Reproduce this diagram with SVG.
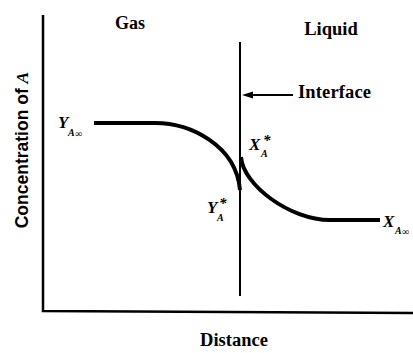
<svg xmlns="http://www.w3.org/2000/svg" width="413" height="353" viewBox="0 0 413 353">
<style>
.t{font-family:"Liberation Serif","Times New Roman",serif;font-weight:bold;fill:#000}
.m{font-family:"Liberation Serif","Times New Roman",serif;font-weight:bold;font-style:italic;fill:#000}
.s{font-family:"Liberation Sans",Arial,sans-serif;font-weight:bold;fill:#000}
.ln{stroke:#000;fill:none}
</style>
<g id="axes">
<path class="ln" d="M43,15 L43,311 L413,313" stroke-width="2.5"/>
</g>
<g id="interface-line">
<line class="ln" x1="240" y1="42" x2="240" y2="296" stroke-width="2"/>
</g>
<g id="connectors">
<line class="ln" x1="293" y1="95" x2="252" y2="95" stroke-width="1.8"/>
<path d="M242,95 L253,91.5 L253,98.5 Z" fill="#000"/>
</g>
<g id="gas-curve">
<path class="ln" d="M94,123 L155,123 C190,123 236,145 240,190" stroke-width="4"/>
</g>
<g id="liquid-curve">
<path class="ln" d="M241,157 C243,185 290,220 330,220 L380,220" stroke-width="4"/>
</g>
<g id="labels">
<text class="t" x="130" y="29" font-size="18" text-anchor="middle">Gas</text>
<text class="t" x="331" y="35" font-size="18.5" text-anchor="middle">Liquid</text>
<text class="t" x="298" y="98" font-size="18.5" textLength="73">Interface</text>
<text class="t" x="234" y="346" font-size="18.5" text-anchor="middle">Distance</text>
<text class="s" transform="translate(28,150) rotate(-90)" font-size="17.5" text-anchor="middle">Concentration of <tspan class="m">A</tspan></text>
<text class="m" x="58" y="128" font-size="17">Y</text>
<text class="m" x="68" y="136" font-size="10">A</text>
<text class="m" x="75" y="137" font-size="10">∞</text>
<text class="m" x="249" y="150" font-size="17">X</text>
<text class="m" x="263" y="145" font-size="15">*</text>
<text class="m" x="261" y="157" font-size="10">A</text>
<text class="m" x="207" y="213" font-size="17">Y</text>
<text class="m" x="219" y="208" font-size="15">*</text>
<text class="m" x="217" y="221" font-size="10">A</text>
<text class="m" x="383" y="227" font-size="17">X</text>
<text class="m" x="395" y="234" font-size="10">A</text>
<text class="m" x="402" y="235" font-size="10">∞</text>
</g>
</svg>
